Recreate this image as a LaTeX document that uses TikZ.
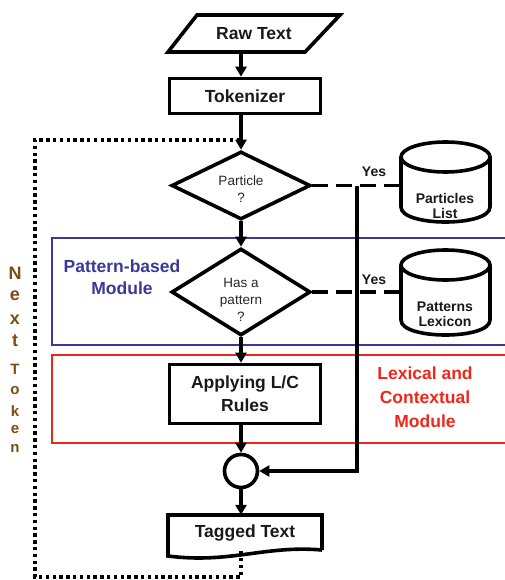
\documentclass[tikz,border=0pt]{standalone}
\usepackage{fontspec}
\setmainfont{Liberation Sans}
\usetikzlibrary{shapes.geometric,arrows.meta,calc}
\definecolor{modblue}{RGB}{58,56,152}
\definecolor{modred}{RGB}{236,40,28}
\definecolor{tokbrown}{RGB}{128,76,20}
\begin{document}
\begin{tikzpicture}[x=1pt,y=-1pt,
  box/.style={draw,line width=3.6pt,rectangle,minimum width=151pt,inner sep=0},
  big/.style={font=\fontsize{17.5}{23}\selectfont\bfseries,align=center,text=black!90},
  small/.style={font=\fontsize{13.5}{17}\selectfont,align=center,text=black!85},
  yes/.style={font=\fontsize{14}{16}\selectfont\bfseries,text=black!90},
  cyltext/.style={font=\fontsize{14}{15}\selectfont\bfseries,align=center,text=black!90},
  arr/.style={line width=3.2pt,-{Triangle[width=11pt,length=10pt]}},
  dashcon/.style={line width=3.2pt,dash pattern=on 16pt off 8pt},
  dotcon/.style={line width=3.6pt,dash pattern=on 3.4pt off 3.4pt},
  outline/.style={line width=3.6pt,line join=miter},
  dia/.style={diamond,draw,line width=3.6pt,inner sep=0,minimum width=139pt},
  modtext/.style={font=\fontsize{17.5}{22}\selectfont\bfseries,align=center},
  nextl/.style={font=\fontsize{18}{18}\selectfont\bfseries,text=tokbrown},
  tokl/.style={font=\fontsize{15}{15}\selectfont\bfseries,text=tokbrown}]
\useasboundingbox (0,0) rectangle (505,580);

% module frames
\draw[modblue,line width=1.8pt] (505,238) -- (52,238) -- (52,345) -- (505,345);
\draw[modred,line width=1.8pt] (505,355) -- (52,355) -- (52,443) -- (505,443);
\node[modtext,text=modblue] (pbm) at (122,277) {Pattern-based\\Module};
\node[modtext,text=modred,font=\fontsize{17.5}{24}\selectfont\bfseries] (lcm) at (425,397) {Lexical and\\Contextual\\Module};

% Next Token
\node[nextl] (n1) at (15,273) {N};
\node[nextl] (n2) at (15,296) {e};
\node[nextl] (n3) at (15,320) {x};
\node[nextl] (n4) at (15,341) {t};
\node[tokl] (t1) at (15,369) {T};
\node[tokl] (t2) at (15,391) {o};
\node[tokl] (t3) at (15,411) {k};
\node[tokl] (t4) at (15,430) {e};
\node[tokl] (t5) at (15,448) {n};

% Raw Text
\draw[outline] (197,15) -- (340,15) -- (305,52) -- (168,52) -- cycle;
\node[big,minimum height=37pt,minimum width=138pt,inner sep=0] (raw) at (254,33.5) {Raw Text};

% Tokenizer
\node[box,big,minimum height=35pt] (tok) at (245,96) {Tokenizer};

% diamonds
\node[dia,minimum height=68pt] (d1) at (241,185.5) {};
\node[small] (d1t) at (241,189) {Particle\\?};
\node[dia,minimum height=87pt] (d2) at (241,292) {};
\node[small] (d2t) at (241,300) {Has a\\pattern\\?};

% Applying
\node[box,big,minimum height=59pt] (app) at (245,394) {Applying L/C\\Rules};

% circle
\node[circle,draw,line width=3.6pt,minimum size=33pt,inner sep=0] (cir) at (241,471) {};

% Tagged text
\draw[outline] (322,550) -- (322,515) -- (168,515) -- (168,556) .. controls (230,564) and (265,545) .. (322,550);
\node[big,minimum width=152pt,minimum height=36pt,inner sep=0] (tag) at (245,533) {Tagged Text};

% cylinders
\draw[outline] (445.5,157) ellipse [x radius=44.5pt,y radius=15pt];
\draw[outline] (401,157) -- (401,207) .. controls (401,227) and (490,227) .. (490,207) -- (490,157);
\node[minimum width=89pt,minimum height=80pt,inner sep=0] (cyl1) at (445.5,182) {};
\node[cyltext] (cyl1t) at (445,206) {Particles\\List};

\draw[outline] (445.5,265) ellipse [x radius=44.5pt,y radius=15pt];
\draw[outline] (401,265) -- (401,320) .. controls (401,340) and (490,340) .. (490,320) -- (490,265);
\node[minimum width=89pt,minimum height=85pt,inner sep=0] (cyl2) at (445.5,292.5) {};
\node[cyltext] (cyl2t) at (445,314) {Patterns\\Lexicon};

% connectors
\draw[arr] (raw.south -| d1.north) -- (tok.north -| d1.north);
\draw[arr] (tok.south -| d1.north) -- (d1.north);
\draw[arr] (d1.south) -- (d2.north);
\draw[arr] (d2.south) -- (app.north -| d2.south);
\draw[arr] (app.south -| cir.north) -- (cir.north);
\draw[arr] (cir.south) -- (tag.north -| cir.south);

\draw[dashcon] (d1.east) -- (d1.east -| cyl1.west);
\draw[dashcon] (d2.east) -- (d2.east -| cyl2.west);
\node[yes] (yes1) at (374,172) {Yes};
\node[yes] (yes2) at (374,280) {Yes};

\coordinate (j1) at (357,185.5);
\draw[arr] (j1) |- (cir.east);

% loop back
\coordinate (loopA) at (241,577);
\coordinate (loopB) at (35,577);
\coordinate (loopC) at (35,140);
\coordinate (loopD) at (241,140);
\draw[dotcon] (tag.south -| cir.south) -- (loopA) -- (loopB) -- (loopC) -- (loopD);
\end{tikzpicture}
\end{document}
